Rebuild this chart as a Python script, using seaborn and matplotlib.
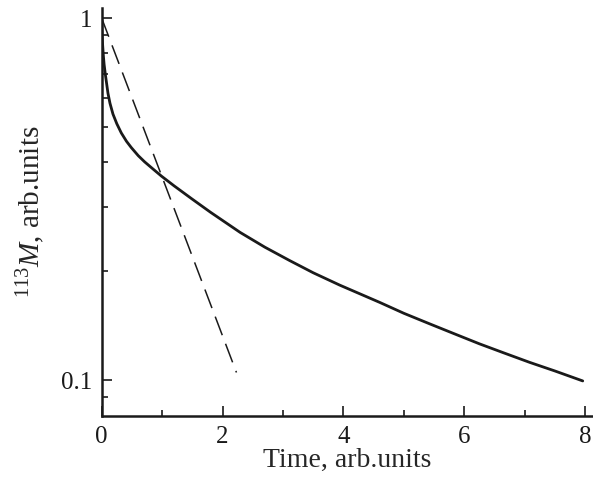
import numpy as np
import pandas as pd
import seaborn as sns
import matplotlib.pyplot as plt
from matplotlib.ticker import FixedLocator, NullFormatter, MultipleLocator

# curva de magnetização
tempo = [0.0, 0.004, 0.012, 0.027, 0.04, 0.06, 0.104, 0.137, 0.187, 0.25,
         0.324, 0.41, 0.49, 0.605, 0.71, 0.85, 0.99, 1.2, 1.49, 1.8,
         2.29, 2.7, 3.11, 3.5, 3.94, 4.6, 5.0, 5.43, 5.85, 6.25,
         6.65, 7.08, 7.5, 7.96]
magnet = [1.0, 0.92, 0.86, 0.79, 0.745, 0.70, 0.62, 0.582, 0.543, 0.511,
          0.482, 0.457, 0.439, 0.417, 0.401, 0.383, 0.366, 0.344, 0.317, 0.291,
          0.256, 0.233, 0.214, 0.198, 0.183, 0.164, 0.153, 0.143, 0.134, 0.126,
          0.119, 0.112, 0.106, 0.0995]

# reta exponencial (tracejada)
tempo_exp = [0.0, 2.23]
magnet_exp = [1.0, 0.105]

sns.set_style('ticks')
plt.rcParams['font.family'] = ['Liberation Serif', 'DejaVu Serif']
plt.rcParams['mathtext.fontset'] = 'custom'
plt.rcParams['mathtext.rm'] = 'Liberation Serif'
plt.rcParams['mathtext.it'] = 'Liberation Serif:italic'

fig = plt.figure(figsize=(5.93, 4.79), dpi=100)
ax = fig.add_axes([0.1715, 0.1315, 0.8275, 0.8515])

sns.lineplot(x=tempo, y=magnet, ax=ax, color='#1a1a1a', linewidth=2.0, sort=False)
sns.lineplot(x=tempo_exp, y=magnet_exp, ax=ax, color='#1a1a1a', linewidth=1.1,
             sort=False)
ax.lines[-1].set_dashes([13, 6])

ax.set_yscale('log')
ax.set_xlim(0, 8.12)
ax.set_ylim(0.0796, 1.066)

ax.yaxis.set_major_locator(FixedLocator([0.1, 1]))
ax.set_yticklabels(['0.1', '1'])
ax.yaxis.set_minor_locator(FixedLocator([0.09] + [i / 10 for i in range(2, 10)]))
ax.yaxis.set_minor_formatter(NullFormatter())
ax.xaxis.set_major_locator(MultipleLocator(2))
ax.xaxis.set_minor_locator(MultipleLocator(1))

for s in ['top', 'right']:
    ax.spines[s].set_visible(False)
for s in ['left', 'bottom']:
    ax.spines[s].set_linewidth(1.8)
    ax.spines[s].set_color('#1a1a1a')

ax.tick_params(which='major', direction='in', length=7, width=1.2, labelsize=18,
               pad=7, colors='#1a1a1a')
ax.tick_params(which='minor', direction='in', length=4.5, width=1.2, colors='#1a1a1a')

ax.set_xlabel('Time, arb.units', fontsize=20, labelpad=0)
ax.set_ylabel('$^{113}\\mathit{M}$, arb.units', fontsize=21, labelpad=10)

fig.savefig('out.png', dpi=100)
